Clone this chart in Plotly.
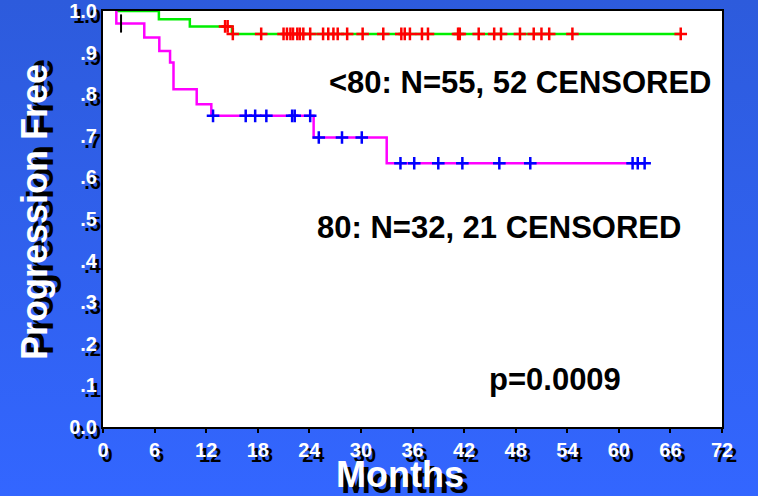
import base64
import plotly.graph_objects as go

# ---- data ----
# group <80 (green line, red censor marks)
lt80_times = [1.5, 6.5, 10.1, 15.0, 67.2]
lt80_surv = [1.0, 0.980, 0.963, 0.945, 0.945]
lt80_censored = [14.2, 14.5, 15.1, 18.4, 21.0, 21.4, 21.8, 22.1, 22.6, 22.9, 23.3,
                 24.1, 25.6, 26.2, 26.8, 27.3, 28.4, 30.2, 32.6, 34.7, 35.1, 35.7,
                 37.1, 37.8, 41.3, 41.5, 43.7, 45.5, 46.3, 48.5, 50.1, 51.0, 51.9,
                 54.6, 67.2]

# group 80 (magenta line, blue censor marks)
ge80_times = [1.5, 1.55, 4.8, 6.55, 7.8, 8.2, 10.9, 12.6, 24.5, 33.0, 63.0]
ge80_surv = [1.0, 0.970, 0.936, 0.904, 0.876, 0.812, 0.776, 0.748, 0.696, 0.634, 0.634]
ge80_censored = [12.8, 16.6, 17.7, 19.0, 22.0, 22.3, 24.1, 25.1, 27.8, 30.1, 34.6,
                 36.2, 39.0, 41.8, 46.1, 49.7, 61.6, 62.2, 63.0]
ge80_black_censored = [2.1]

x_ticks = list(range(0, 73, 6))
y_ticks = [0.0, 0.1, 0.2, 0.3, 0.4, 0.5, 0.6, 0.7, 0.8, 0.9, 1.0]
y_tick_labels = ["0.0", ".1", ".2", ".3", ".4", ".5", ".6", ".7", ".8", ".9", "1.0"]

label_lt80 = "<80: N=55, 52 CENSORED"
label_ge80 = "80: N=32, 21 CENSORED"
label_p = "p=0.0009"


def step_value(times, surv, t):
    v = surv[0]
    for ti, si in zip(times, surv):
        if ti <= t:
            v = si
    return v


fig = go.Figure()

fig.add_trace(go.Scatter(x=lt80_times, y=lt80_surv, mode="lines", line_shape="hv",
                         line=dict(color="#00ee00", width=2.5), hoverinfo="skip"))
fig.add_trace(go.Scatter(x=ge80_times, y=ge80_surv, mode="lines", line_shape="hv",
                         line=dict(color="#ff00ff", width=2.5), hoverinfo="skip"))

fig.add_trace(go.Scatter(x=lt80_censored,
                         y=[step_value(lt80_times, lt80_surv, t) for t in lt80_censored],
                         mode="markers",
                         marker=dict(symbol="cross-thin", size=9,
                                     line=dict(color="#ff0000", width=2.5))))
fig.add_trace(go.Scatter(x=ge80_censored,
                         y=[step_value(ge80_times, ge80_surv, t) for t in ge80_censored],
                         mode="markers",
                         marker=dict(symbol="cross-thin", size=9,
                                     line=dict(color="#0000ff", width=2.5))))
fig.add_trace(go.Scatter(x=ge80_black_censored,
                         y=[step_value(ge80_times, ge80_surv, t) for t in ge80_black_censored],
                         mode="markers",
                         marker=dict(symbol="line-ns", size=13,
                                     line=dict(color="#000000", width=2))))

svg = ("<svg xmlns='http://www.w3.org/2000/svg' width='758' height='496' "
       "preserveAspectRatio='none'><defs><linearGradient id='g' x1='0' y1='0' x2='0' y2='1'>"
       "<stop offset='0' stop-color='#2D5BDC'/><stop offset='1' stop-color='#3366FF'/>"
       "</linearGradient></defs><rect width='758' height='496' fill='url(#g)'/></svg>")
svg_uri = "data:image/svg+xml;base64," + base64.b64encode(svg.encode()).decode()

W, H = 758, 496
L, R, T, B = 103, 36, 11, 69
pw, ph = W - L - R, H - T - B

tick_font = dict(family="Liberation Sans, Arial", size=20, color="white",
                 weight="bold", shadow="4px 5px 0px #000")
title_font = dict(family="Liberation Sans, Arial", size=36, color="white",
                  weight="bold", shadow="5px 6px 0px #000")
note_font = dict(family="Liberation Sans, Arial", size=31, color="black", weight="bold")

fig.update_layout(
    width=W, height=H,
    margin=dict(l=L, r=R, t=T, b=B, autoexpand=False),
    paper_bgcolor="#3060EE",
    plot_bgcolor="rgba(0,0,0,0)",
    showlegend=False,
    images=[dict(source=svg_uri, xref="paper", yref="paper",
                 x=-L / pw, y=1 + T / ph, sizex=W / pw, sizey=H / ph,
                 sizing="stretch", xanchor="left", yanchor="top", layer="below")],
    shapes=[dict(type="rect", xref="paper", yref="paper", x0=0, x1=1, y0=0, y1=1,
                 fillcolor="white", line=dict(width=0), layer="below")],
    xaxis=dict(range=[0, 72], tickvals=x_ticks, ticks="outside", ticklen=4,
               tickwidth=2, tickcolor="black", showline=True, linecolor="black",
               linewidth=2, mirror=True, showgrid=False, zeroline=False,
               tickfont=tick_font, fixedrange=True, automargin=False),
    yaxis=dict(range=[0, 1], tickvals=y_ticks, ticktext=y_tick_labels, ticks="",
               showline=True, linecolor="black", linewidth=2, mirror=True,
               showgrid=False, zeroline=False, tickfont=tick_font,
               fixedrange=True, automargin=False),
    annotations=[
        dict(text=label_lt80, x=48.6, y=0.828, xref="x", yref="y", showarrow=False,
             xanchor="center", yanchor="middle", font=note_font),
        dict(text=label_ge80, x=46.1, y=0.480, xref="x", yref="y", showarrow=False,
             xanchor="center", yanchor="middle", font=note_font),
        dict(text=label_p, x=52.6, y=0.115, xref="x", yref="y", showarrow=False,
             xanchor="center", yanchor="middle", font=note_font),
        dict(text="Months", x=(400 - L) / pw, y=(T + ph - 474) / ph, xref="paper",
             yref="paper", showarrow=False, xanchor="center", yanchor="middle",
             font=title_font),
        dict(text="Progression Free", x=(35 - L) / pw, y=(T + ph - 212) / ph,
             xref="paper", yref="paper", showarrow=False, textangle=-90,
             xanchor="center", yanchor="middle", font=title_font),
    ],
)

fig.write_html("out.html", config={"displayModeBar": False},
               post_script="document.body.style.margin='0';document.body.style.overflow='hidden';")
